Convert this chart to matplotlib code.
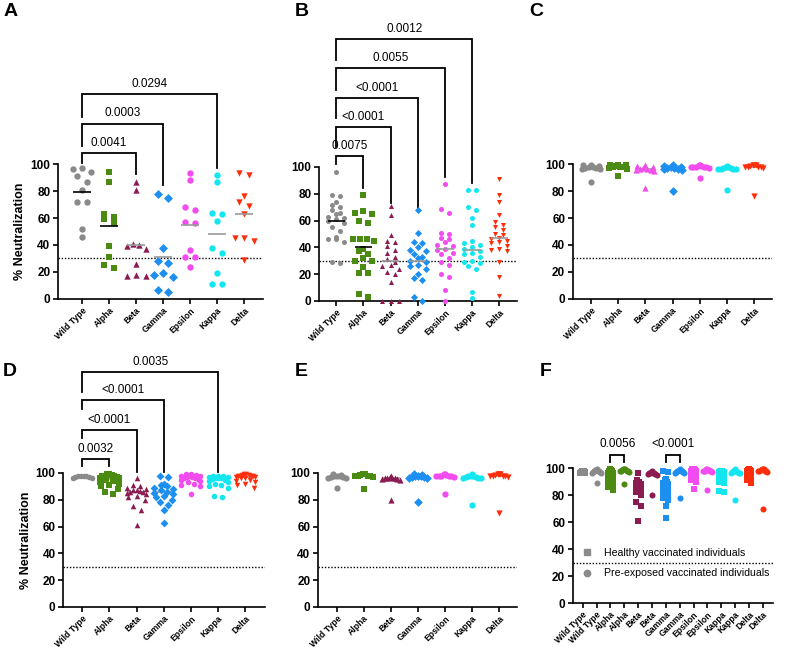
import numpy as np
import matplotlib.pyplot as plt
from matplotlib.lines import Line2D

plt.rcParams['font.family'] = ['Liberation Sans', 'DejaVu Sans']

variants = ['Wild Type', 'Alpha', 'Beta', 'Gamma', 'Epsilon', 'Kappa', 'Delta']
colors = ['#8a8a8a', '#4b8b12', '#8b1c52', '#1d8ff0', '#f24cf0', '#14e6f0', '#ff2d0a']
markers = ['o', 's', '^', 'D', 'o', 'o', 'v']
median_colors = ['black', 'black', '#9a9a9a', '#9a9a9a', '#9a9a9a', '#9a9a9a', '#9a9a9a']

# panel A
a_wt = [97, 96, 94, 91, 87, 81, 72, 72, 52, 46]
a_alpha = [94, 87, 63, 61, 59, 56, 39, 31, 25, 23]
a_beta = [87, 81, 41, 40, 39, 37, 26, 18, 17, 17]
a_gamma = [78, 75, 38, 28, 27, 19, 18, 16, 7, 5]
a_epsilon = [93, 88, 68, 66, 57, 56, 36, 31, 31, 24]
a_kappa = [92, 87, 64, 63, 58, 38, 34, 19, 11, 11]
a_delta = [93, 92, 76, 72, 69, 63, 45, 45, 43, 29]
a_medians = [79, 54, 40, 31, 55, 48, 63]

# panel B
b_wt = [96, 79, 78, 74, 72, 70, 68, 66, 65, 63, 62, 61, 60, 58, 55, 52, 48, 46, 46, 44, 29, 28]
b_alpha = [79, 67, 66, 65, 60, 58, 46, 46, 46, 45, 39, 37, 35, 32, 30, 30, 25, 21, 21, 5, 3]
b_beta = [71, 64, 49, 45, 44, 41, 38, 36, 33, 31, 29, 27, 26, 24, 22, 20, 14, 0, 0, 0]
b_gamma = [68, 51, 44, 43, 40, 38, 37, 35, 33, 32, 30, 29, 27, 26, 24, 20, 17, 16, 3, 0]
b_epsilon = [87, 69, 66, 51, 50, 47, 46, 44, 42, 41, 39, 38, 36, 35, 32, 29, 27, 20, 18, 8, 0]
b_kappa = [83, 83, 70, 68, 62, 57, 45, 43, 42, 40, 39, 37, 36, 35, 33, 30, 29, 28, 26, 24, 7, 2]
b_delta = [91, 79, 74, 64, 59, 57, 55, 53, 50, 49, 47, 46, 45, 44, 43, 41, 39, 38, 37, 29, 18, 4]
b_medians = [60, 40, 30, 30, 39, 38, 47]

# panel C
c_wt = [99.5, 99, 98.5, 98, 97.5, 97, 97, 96.5, 96, 87]
c_alpha = [99.5, 99, 99, 98.5, 98, 98, 97.5, 97, 96.5, 91]
c_beta = [99.5, 98.5, 97.5, 97, 96.5, 96, 95.5, 95.5, 95, 82]
c_gamma = [99, 98.5, 98, 97.5, 97, 97, 96.5, 96, 95.5, 80]
c_epsilon = [99.5, 99, 98.5, 98, 98, 98, 97.5, 97.5, 97, 90]
c_kappa = [98.5, 98, 97.5, 97, 97, 96.5, 96.5, 96, 96, 81]
c_delta = [99.5, 99, 99, 98.5, 98, 98, 97.5, 97.5, 97, 76]

# panel D (healthy vaccinated)
d_wt = [98, 98, 97.5, 97.5, 97, 97, 96.5, 96.5]
d_alpha = [99, 99, 98.5, 98, 98, 97.5, 97, 96.5, 96, 95, 94, 93, 92, 91, 90, 88, 86, 84]
d_beta = [96, 91, 90, 89, 88, 87.5, 87, 86.5, 86, 85.5, 85, 84, 83, 82, 80, 75, 72, 61]
d_gamma = [98, 97, 92, 91, 90, 89, 88, 87, 86, 85, 84, 83, 82, 80, 78, 76, 72, 63]
d_epsilon = [99, 99, 98.5, 98, 98, 97.5, 97, 97, 96.5, 96, 95.5, 95, 94, 93, 92, 91, 90, 84.5]
d_kappa = [98, 98, 97.5, 97, 97, 96.5, 96, 96, 95.5, 95, 94, 93, 92, 91, 90, 89, 83, 82]
d_delta = [99, 99, 98.5, 98.5, 98, 98, 97.5, 97.5, 97, 97, 96.5, 96, 95, 94, 93, 92, 91, 89]

# panel E (pre-exposed vaccinated)
e_wt = [99, 98.5, 98, 97.5, 97.5, 97, 97, 96.5, 96, 89]
e_alpha = [99.5, 99, 99, 98.5, 98, 98, 97.5, 97.5, 97, 88]
e_beta = [97.5, 97, 96.5, 96, 96, 96, 95.5, 95.5, 95, 80]
e_gamma = [99.5, 98.5, 98, 97.5, 97.5, 97, 97, 96.5, 96, 78]
e_epsilon = [99.5, 99, 98.5, 98, 98, 98, 97.5, 97.5, 97, 84]
e_kappa = [99, 98, 97.5, 97.5, 97, 97, 96.5, 96, 96, 76]
e_delta = [99.5, 99, 99, 98.5, 98, 98, 97.5, 97.5, 97, 70]

panel_a = [a_wt, a_alpha, a_beta, a_gamma, a_epsilon, a_kappa, a_delta]
panel_b = [b_wt, b_alpha, b_beta, b_gamma, b_epsilon, b_kappa, b_delta]
panel_c = [c_wt, c_alpha, c_beta, c_gamma, c_epsilon, c_kappa, c_delta]
panel_d = [d_wt, d_alpha, d_beta, d_gamma, d_epsilon, d_kappa, d_delta]
panel_e = [e_wt, e_alpha, e_beta, e_gamma, e_epsilon, e_kappa, e_delta]

brackets_a = [(0, 2, '0.0041', 108, 100.7, 92.6), (0, 3, '0.0003', 130, 113, 84.4),
              (0, 5, '0.0294', 152, 135, 97)]
brackets_b = [(0, 1, '0.0075', 108, 102, 84), (0, 2, '<0.0001', 130, 115, 73),
              (0, 3, '<0.0001', 151.5, 136.5, 69.4), (0, 4, '0.0055', 174, 157.5, 92.5),
              (0, 5, '0.0012', 195.5, 180, 88)]
brackets_d = [(0, 1, '0.0032', 110.4, 105, 105), (0, 2, '<0.0001', 132, 126, 100.7),
              (0, 3, '<0.0001', 154.5, 147.7, 100.7), (0, 5, '0.0035', 175, 160.7, 100.7)]
brackets_f = [(2, 3, '0.0056', 110, 104.4, 104.4), (6, 7, '<0.0001', 110, 104.4, 104.4)]


def swarm_x(vals, center, dy, step0, maxw):
    # group close values into rows, spread each row around the centre
    vals = np.asarray(vals, float)
    order = np.argsort(vals)
    xs = np.zeros(len(vals))
    rows = []
    cur = [order[0]]
    for i in order[1:]:
        if vals[i] - vals[cur[0]] <= dy:
            cur.append(i)
        else:
            rows.append(cur)
            cur = [i]
    rows.append(cur)
    for r in rows:
        n = len(r)
        step = step0 if n < 2 else min(step0, maxw / (n - 1))
        offs = (np.arange(n) - (n - 1) / 2) * step
        pos_order = np.argsort(np.abs(offs), kind='stable')
        r_sorted = sorted(r, key=lambda i: -vals[i])
        for p, i in zip(pos_order, r_sorted):
            xs[i] = center + offs[p]
    return xs


def style_axis(ax, xlim, labels, ylabel=False):
    ax.set_xlim(*xlim)
    ax.set_ylim(0, 100)
    ax.set_yticks(range(0, 101, 20))
    ax.set_xticks(range(len(labels)))
    ax.set_xticklabels(labels, rotation=45, ha='right', rotation_mode='anchor',
                       fontsize=6.2, fontweight='bold')
    for lab in ax.get_yticklabels():
        lab.set_fontweight('bold')
        lab.set_fontsize(8.5)
    ax.spines['top'].set_visible(False)
    ax.spines['right'].set_visible(False)
    for s in ['left', 'bottom']:
        ax.spines[s].set_linewidth(1.2)
    ax.tick_params(width=1.2, length=3.5, pad=2)
    ax.tick_params(axis='x', pad=1.5)
    ax.axhline(30, color='black', lw=1.0, ls=(0, (1, 1.3)), zorder=1)
    if ylabel:
        ax.set_ylabel('% Neutralization', fontsize=9, fontweight='bold', labelpad=3)


def draw_groups(ax, groups, cols, marks, size, dy, step0, maxw, medians=None, mw=0.32):
    for k, vals in enumerate(groups):
        xs = swarm_x(vals, k, dy, step0, maxw)
        ax.scatter(xs, vals, s=size, c=cols[k], marker=marks[k], linewidths=0,
                   zorder=3, clip_on=False)
        if medians is not None:
            ax.hlines(medians[k], k - mw, k + mw, color=median_colors[k], lw=1.2, zorder=4)
        else:
            ax.hlines(np.median(vals), k - mw, k + mw, color='#9a9a9a', lw=1.2, zorder=2)


def draw_brackets(ax, brackets):
    for i, j, txt, h, lb, rb in brackets:
        ax.plot([i, i, j, j], [lb, h, h, rb], color='black', lw=1.3, clip_on=False,
                solid_joinstyle='miter')
        ax.annotate(txt, xy=((i + j) / 2, h), xytext=(0, 3), textcoords='offset points',
                    ha='center', va='bottom', fontsize=8.5, annotation_clip=False)


fig = plt.figure(figsize=(8, 6.48), dpi=100)

axA = fig.add_axes([0.0725, 0.5386, 0.2563, 0.2083])
axB = fig.add_axes([0.399, 0.5355, 0.2475, 0.2068])
axC = fig.add_axes([0.716, 0.5386, 0.249, 0.2083])
axD = fig.add_axes([0.079, 0.0633, 0.2525, 0.2068])
axE = fig.add_axes([0.3975, 0.0633, 0.249, 0.2068])
axF = fig.add_axes([0.716, 0.0694, 0.25, 0.2083])

style_axis(axA, (-0.89, 6.7), variants, ylabel=True)
draw_groups(axA, panel_a, colors, markers, 21, 4.0, 0.36, 0.7, a_medians)
draw_brackets(axA, brackets_a)

style_axis(axB, (-0.63, 6.66), variants)
draw_groups(axB, panel_b, colors, markers, 13, 3.4, 0.3, 0.75, b_medians)
draw_brackets(axB, brackets_b)

c_colors = list(colors)
c_colors[2] = '#f04ee8'
style_axis(axC, (-0.66, 6.65), variants)
draw_groups(axC, panel_c, c_colors, markers, 20, 2.2, 0.3, 0.66)

style_axis(axD, (-0.7, 6.73), variants, ylabel=True)
draw_groups(axD, panel_d, colors, markers, 16, 3.6, 0.3, 0.7)
draw_brackets(axD, brackets_d)

style_axis(axE, (-0.7, 6.67), variants)
draw_groups(axE, panel_e, colors, markers, 20, 2.2, 0.3, 0.66)

# panel F: healthy (squares) vs pre-exposed (circles), side by side
f_labels = [v for v in variants for _ in range(2)]
f_groups = []
f_cols = []
f_marks = []
for k in range(7):
    f_groups += [panel_d[k], panel_e[k]]
    f_cols += [colors[k], colors[k]]
    f_marks += ['s', 'o']
style_axis(axF, (-0.72, 13.72), f_labels)
for k, vals in enumerate(f_groups):
    maxw = 0.35 if f_marks[k] == 's' else 0.65
    xs = swarm_x(vals, k, 3.8, 0.35, maxw)
    axF.scatter(xs, vals, s=19, c=f_cols[k], marker=f_marks[k], linewidths=0,
                zorder=3, clip_on=False)
draw_brackets(axF, brackets_f)
handles = [Line2D([], [], ls='none', marker='s', color='#8a8a8a', markersize=4.2),
           Line2D([], [], ls='none', marker='o', color='#8a8a8a', markersize=4.6)]
axF.legend(handles, ['Healthy vaccinated individuals', 'Pre-exposed vaccinated individuals'],
           loc='upper left', bbox_to_anchor=(0.045, 0.41), frameon=False, fontsize=7.6,
           handlelength=1.0, handletextpad=1.1, labelspacing=1.0, borderpad=0,
           borderaxespad=0)

for lab, x, y in [('A', 0.004, 0.995), ('B', 0.368, 0.995), ('C', 0.662, 0.995),
                  ('D', 0.004, 0.44), ('E', 0.368, 0.44), ('F', 0.675, 0.44)]:
    fig.text(x, y, lab, fontsize=14, fontweight='bold', va='top', ha='left')

fig.savefig('out.png', dpi=100)
